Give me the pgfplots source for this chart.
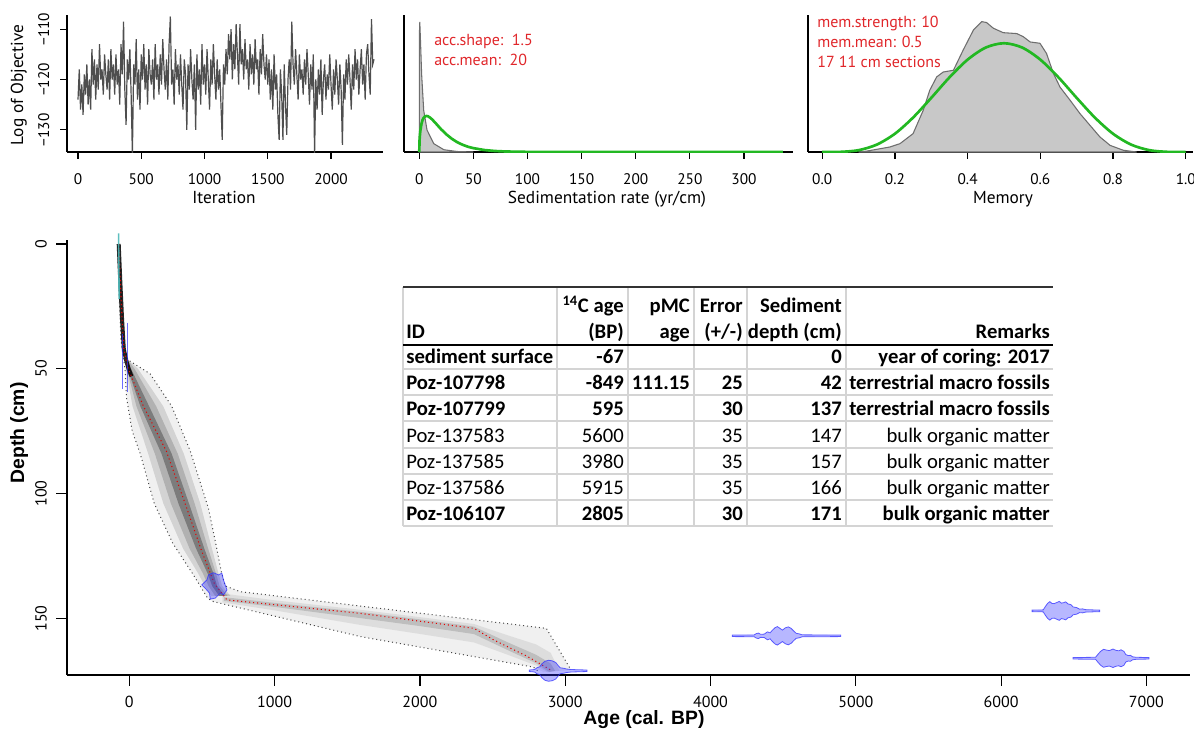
\documentclass[border=0pt]{standalone}
\usepackage{fontspec}
\setmainfont{PT Sans}
\newfontfamily\carlito{Carlito}
\newfontfamily\libsans{Liberation Sans}
\usepackage{pgfplots}
\pgfplotsset{compat=1.18}
\definecolor{trace}{HTML}{4E4E4E}
\definecolor{pgreen}{HTML}{22B822}
\definecolor{annot}{HTML}{E0262A}
\definecolor{dens}{HTML}{C8C8C8}
\definecolor{densline}{HTML}{6E6E6E}
\definecolor{calblue}{HTML}{3030FF}
\definecolor{cyanline}{rgb}{0.30,0.72,0.72}
\definecolor{gridgray}{HTML}{D4D4D4}
\pgfplotsset{
  rbase/.style={
    scale only axis,
    axis lines=left,
    axis line style={-, line width=0.9pt, black},
    tick align=outside,
    tick style={black, line width=0.9pt},
    major tick length=5pt,
    tick label style={font=\fontsize{11.5}{13}\selectfont},
  }
}
\tikzset{
  tb/.style={font=\carlito\bfseries\fontsize{15.5}{18}\selectfont, inner sep=0pt},
  tr/.style={font=\carlito\fontsize{15.5}{18}\selectfont, inner sep=0pt},
}
\begin{document}
\begin{tikzpicture}
\useasboundingbox (0,0) rectangle (895.5pt,-552pt);

% ---------- top left: trace
\begin{axis}[rbase, at={(50.25pt,-114pt)}, anchor=south west,
  width=237pt, height=102.75pt,
  xmin=-87, xmax=2411, ymin=-134.4, ymax=-107.2,
  xtick={0,500,1000,1500,2000}, xticklabels={0,500,1000,1500,2000},
  ytick={-130,-120,-110}, yticklabels={−130,−120,−110},
  xticklabel style={yshift=-8pt},
  yticklabel style={rotate=90, anchor=south, inner ysep=8pt}]
\addplot[trace, line width=0.9pt] table[header=false, row sep=\\, x expr=\coordindex*10, y index=0] {
-124\\ -118\\ -126\\ -121\\ -127\\ -119\\ -123\\ -117\\ -125\\ -120\\
-126\\ -114\\ -121\\ -116\\ -124\\ -117\\ -122\\ -113\\ -120\\ -118\\
-123\\ -115\\ -119\\ -122\\ -116\\ -124\\ -114\\ -120\\ -117\\ -123\\
-115\\ -121\\ -118\\ -125\\ -113\\ -119\\ -108.5\\ -122\\ -129\\ -116\\
-120\\ -114\\ -123\\ -135\\ -117\\ -121\\ -112\\ -124\\ -118\\ -126\\
-115\\ -120\\ -113\\ -122\\ -117\\ -125\\ -114\\ -119\\ -121\\ -116\\
-124\\ -113\\ -120\\ -117\\ -123\\ -115\\ -121\\ -112\\ -118\\ -122\\
-116\\ -124\\ -113\\ -107.5\\ -121\\ -118\\ -125\\ -114\\ -120\\ -117\\
-123\\ -115\\ -121\\ -126\\ -116\\ -119\\ -130\\ -117\\ -122\\ -114\\
-120\\ -124\\ -117\\ -130\\ -115\\ -122\\ -118\\ -125\\ -113\\ -121\\
-117\\ -123\\ -114\\ -120\\ -126\\ -116\\ -121\\ -113\\ -119\\ -124\\
-116\\ -122\\ -118\\ -125\\ -132\\ -117\\ -121\\ -114\\ -119\\ -111\\
-116\\ -110\\ -120\\ -113\\ -118\\ -109\\ -115\\ -121\\ -109\\ -117\\
-114\\ -120\\ -112\\ -118\\ -116\\ -122\\ -113\\ -119\\ -115\\ -121\\
-112\\ -118\\ -116\\ -123\\ -114\\ -119\\ -111\\ -117\\ -120\\ -115\\
-121\\ -116\\ -124\\ -118\\ -126\\ -115\\ -122\\ -119\\ -127\\ -132\\
-118\\ -123\\ -132\\ -117\\ -125\\ -131\\ -120\\ -116\\ -122\\ -108.5\\
-117\\ -121\\ -114\\ -119\\ -124\\ -115\\ -120\\ -118\\ -123\\ -116\\
-121\\ -114\\ -119\\ -125\\ -117\\ -122\\ -115\\ -135\\ -120\\ -126\\
-118\\ -123\\ -116\\ -127\\ -120\\ -117\\ -124\\ -119\\ -122\\ -115\\
-121\\ -126\\ -118\\ -123\\ -116\\ -120\\ -125\\ -117\\ -122\\ -133\\
-119\\ -124\\ -116\\ -121\\ -115\\ -120\\ -126\\ -117\\ -122\\ -114\\
-120\\ -116\\ -123\\ -118\\ -114\\ -121\\ -117\\ -124\\ -115\\ -113\\
-119\\ -123\\ -108\\ -117\\ -116\\
};
\end{axis}

% ---------- top middle: accumulation rate
\begin{axis}[rbase, at={(303pt,-114pt)}, anchor=south west,
  width=291.75pt, height=102.75pt,
  xmin=-14.1, xmax=345.3, ymin=0, ymax=0.138,
  xtick={0,50,100,150,200,250,300}, xticklabels={0,50,100,150,200,250,300},
  ytick=\empty, xticklabel style={yshift=-8pt}]
\addplot[fill=dens, draw=densline, line width=0.8pt] coordinates {
(0,0) (0.15,0.12) (0.5,0.131) (1.2,0.11) (2.2,0.078) (4.1,0.042) (7.2,0.022)
(13.4,0.0084) (22.7,0.0023) (35,0.0005) (50,0)} -- cycle;
\addplot[pgreen, line width=2pt] coordinates {
(0,0) (0.25,0.0114) (0.5,0.0158) (1,0.0215) (2,0.0282) (3,0.0321) (4,0.0343)
(5,0.0356) (6.67,0.0363) (8,0.0360) (10,0.0346) (12,0.0327) (15,0.0292)
(20,0.0231) (25,0.0178) (30,0.0134) (35,0.0099) (40,0.0073) (45,0.0053)
(50,0.0039) (60,0.0020) (70,0.0010) (80,0.0005) (100,0.00013) (150,0) (336,0)};
\end{axis}

% ---------- top right: memory
\begin{axis}[rbase, at={(606pt,-114pt)}, anchor=south west,
  width=288.75pt, height=102.75pt,
  xmin=-0.039, xmax=1.02, ymin=0, ymax=3.1,
  xtick={0,0.2,0.4,0.6,0.8,1}, xticklabels={0.0,0.2,0.4,0.6,0.8,1.0},
  ytick=\empty, xticklabel style={yshift=-8pt}]
\addplot[fill=dens, draw=densline, line width=0.8pt] coordinates {
(0.10,0) (0.122,0.02) (0.186,0.113) (0.214,0.189) (0.250,0.416) (0.278,0.945)
(0.296,1.40) (0.315,1.70) (0.333,1.81) (0.361,1.85) (0.388,2.31) (0.416,2.76)
(0.439,2.95) (0.452,2.93) (0.471,2.80) (0.498,2.70) (0.535,2.68) (0.553,2.61)
(0.572,2.49) (0.599,2.46) (0.617,2.23) (0.636,1.78) (0.654,1.47) (0.682,1.17)
(0.709,0.87) (0.737,0.60) (0.764,0.34) (0.792,0.15) (0.828,0.04) (0.865,0)} -- cycle;
\addplot[pgreen, line width=2pt, smooth] coordinates {
(0,0) (0.05,0.0032) (0.1,0.0413) (0.15,0.1665) (0.2,0.413) (0.25,0.779)
(0.3,1.225) (0.35,1.688) (0.4,2.090) (0.45,2.364) (0.5,2.461) (0.55,2.364)
(0.6,2.090) (0.65,1.688) (0.7,1.225) (0.75,0.779) (0.8,0.413) (0.85,0.1665)
(0.9,0.0413) (0.95,0.0032) (1,0)};
\end{axis}

% ---------- main age-depth plot (y = -depth)
\begin{axis}[rbase, at={(50.25pt,-506.25pt)}, anchor=south west,
  width=842.25pt, height=326.25pt,
  xmin=-428.8, xmax=7300, ymin=-172.7, ymax=1.6,
  major tick length=8pt,
  tick label style={font=\fontsize{12}{14}\selectfont},
  xtick={0,1000,2000,3000,4000,5000,6000,7000},
  xticklabels={0,1000,2000,3000,4000,5000,6000,7000},
  ytick={-150,-100,-50,0}, yticklabels={150,100,50,0},
  xticklabel style={yshift=-4.5pt},
  yticklabel style={rotate=90, anchor=south, inner ysep=7pt},
  clip=false]
% grey cloud: outer envelope
\addplot[draw=none, fill=black, fill opacity=0.06] coordinates {
(-30,-50) (-18,-62) (20,-75) (75,-84) (172,-104) (300,-120) (435,-132) (540,-142)
(580,-143.3) (1591,-157.3) (2780,-169.5) (2850,-171.5) (3040,-170.7) (2870,-154)
(763,-139.3) (660,-137) (632,-131) (595,-120) (545,-106) (420,-83) (292,-65)
(143,-52) (-7,-46.5)} -- cycle;
% upper section inner layers
\addplot[draw=none, fill=black, fill opacity=0.12] coordinates {
(-17,-46.5) (-23.1,-50) (22.1,-65) (129.9,-84) (234.4,-104) (369.7,-122) (474,-132)
(520,-137) (563,-141) (696,-141) (639,-137) (614,-132) (568.5,-122) (488.5,-104)
(374.9,-84) (233.5,-65) (59.5,-50) (-7.9,-46.5)} -- cycle;
\addplot[draw=none, fill=black, fill opacity=0.16] coordinates {
(-14.5,-46.5) (-17.4,-50) (48.9,-65) (175.7,-84) (286.4,-104) (414.5,-122)
(506.5,-132) (545,-137) (590.5,-141) (676,-141) (621.5,-137) (596.5,-132)
(542.3,-122) (449.8,-104) (333.2,-84) (184.8,-65) (35.8,-50) (-8.65,-46.5)} -- cycle;
\addplot[draw=none, fill=black, fill opacity=0.3] coordinates {
(-12,-46.5) (-11.6,-50) (75.6,-65) (221.4,-84) (338.4,-104) (459.2,-122) (539,-132)
(570,-137) (618,-141) (656,-141) (604,-137) (579,-132) (516,-122) (411,-104)
(291.4,-84) (136,-65) (12,-50) (-9.4,-46.5)} -- cycle;
% lower section inner layers
\addplot[draw=none, fill=black, fill opacity=0.08] coordinates {
(640,-140) (1000,-142.75) (1591,-146.55) (2000,-149.5) (2372,-152.25) (2600,-156.7)
(2800,-160.45) (2900,-163.8) (2960,-171) (2880,-171.6) (2800,-168.9) (2600,-164.5)
(2372,-159.65) (2000,-156.25) (1591,-152.65) (1000,-146.8) (640,-143.6)} -- cycle;
\addplot[draw=none, fill=black, fill opacity=0.14] coordinates {
(650,-141.5) (1000,-143.8) (1591,-147.4) (2000,-150.4) (2372,-153.3) (2600,-159.5)
(2800,-164.6) (2900,-168.1) (2930,-171) (2890,-171.5) (2800,-168) (2600,-162.6)
(2372,-156.3) (2000,-153.1) (1591,-149.9) (1000,-145.4) (650,-143)} -- cycle;
% dotted bounds
\addplot[gray!55!black, line width=0.75pt, dash pattern=on 0.75pt off 2.25pt] coordinates {
(-80,-1) (-70,-20) (-58,-38) (-45,-44) (-30,-50) (-18,-62) (20,-75) (75,-84)
(172,-104) (300,-120) (435,-132) (540,-142) (580,-143.3) (1591,-157.3)
(2780,-169.5) (2810,-171)};
\addplot[gray!55!black, line width=0.75pt, dash pattern=on 0.75pt off 2.25pt] coordinates {
(-66,-1) (-55,-20) (-40,-38) (-20,-45) (-7,-46.5) (143,-52) (292,-65) (420,-83)
(545,-106) (595,-120) (632,-131) (660,-137) (763,-139.3) (2870,-154) (3040,-170.7)};
% dark upper band
\addplot[black, line width=3pt, opacity=0.85] coordinates {
(-73,0) (-62,-15) (-50,-30) (-38,-42) (-20,-47) (-5,-50) (15,-53)};
% mean
\addplot[red!90!black, line width=0.8pt, dash pattern=on 0.8pt off 2.2pt] coordinates {
(-73,0) (-62,-15) (-50,-30) (-38,-42) (-20,-47) (-7,-50) (97,-65) (255,-83)
(378,-103) (498,-123) (585,-136) (672,-142.6) (1591,-148) (2372,-154)
(2510,-158.7) (2741,-165.3) (2901,-170.7)};
% calibrated dates
\addplot[cyanline, line width=1.2pt, opacity=0.9] coordinates {(-74,4.3) (-70,-22)};
\addplot[calblue, line width=1.1pt, opacity=0.7] coordinates {(-13,-31.5) (-13,-59.5)};
\addplot[calblue, line width=1.1pt, opacity=0.7] coordinates {(-48,-36) (-48,-58)};
\addplot[fill=calblue, fill opacity=0.35, draw=calblue, draw opacity=0.75, line width=0.6pt] coordinates {
(499,-136.6) (534,-134.6) (545,-132.6) (579,-131.7) (614,-132.6) (637,-131.9)
(648,-134.6) (660,-136.6) (672,-138.6) (648,-140.6) (626,-139.9) (591,-141.9)
(557,-142.3) (552,-139.9) (522,-137.9)} -- cycle;
\addplot[fill=calblue, fill opacity=0.35, draw=calblue, draw opacity=0.75, line width=0.6pt] coordinates {
(4149,-157.3) (4300,-157.35) (4315,-157.9) (4330,-158.1) (4345,-157.6) (4370,-157.7)
(4392,-158.6) (4410,-158.2) (4425,-159.2) (4445,-160.3) (4460,-160.7) (4478,-160)
(4495,-159.3) (4515,-160.2) (4535,-160.6) (4555,-160) (4575,-158.8) (4590,-158)
(4610,-157.8) (4630,-157.4) (4896,-157.3)
(4896,-156.7) (4630,-156.6) (4610,-156.2) (4590,-156) (4575,-155.2) (4555,-154)
(4535,-153.4) (4515,-153.8) (4495,-154.7) (4478,-154) (4460,-153.3) (4445,-153.7)
(4425,-154.8) (4410,-155.8) (4392,-155.4) (4370,-156.3) (4345,-156.4) (4330,-155.9)
(4315,-156.1) (4300,-156.65) (4149,-156.7)} -- cycle;
\addplot[fill=calblue, fill opacity=0.35, draw=calblue, draw opacity=0.75, line width=0.6pt] coordinates {
(6213,-147.3) (6290,-147.4) (6305,-148.8) (6320,-150) (6335,-150.7) (6350,-150)
(6365,-149.9) (6385,-150.4) (6400,-150.8) (6415,-150.1) (6430,-150.3) (6445,-150.6)
(6460,-149.8) (6480,-149.5) (6495,-148.6) (6520,-148.3) (6540,-147.7) (6560,-147.8)
(6580,-147.5) (6678,-147.3)
(6678,-146.7) (6580,-146.5) (6560,-146.2) (6540,-146.3) (6520,-145.7) (6495,-145.4)
(6480,-144.5) (6460,-144.2) (6445,-143.4) (6430,-143.7) (6415,-143.9) (6400,-143.2)
(6385,-143.6) (6365,-144.1) (6350,-144) (6335,-143.3) (6320,-144) (6305,-145.2)
(6290,-146.6) (6213,-146.7)} -- cycle;
\addplot[fill=calblue, fill opacity=0.35, draw=calblue, draw opacity=0.75, line width=0.6pt] coordinates {
(6495,-166.3) (6650,-166.4) (6665,-167.5) (6685,-168.8) (6705,-169.6) (6725,-169.3)
(6745,-169.1) (6770,-169.7) (6790,-169.2) (6810,-169) (6825,-169.4) (6845,-168.8)
(6858,-167.5) (6875,-167.1) (6890,-167.2) (6905,-166.6) (6930,-166.4) (7018,-166.3)
(7018,-165.7) (6930,-165.6) (6905,-165.4) (6890,-164.8) (6875,-164.9) (6858,-164.5)
(6845,-163.2) (6825,-162.6) (6810,-163) (6790,-162.8) (6770,-162.3) (6745,-162.9)
(6725,-162.7) (6705,-162.4) (6685,-163.2) (6665,-164.5) (6650,-165.6) (6495,-165.7)} -- cycle;
\addplot[fill=calblue, fill opacity=0.35, draw=calblue, draw opacity=0.75, line width=0.6pt] coordinates {
(2752,-171.3) (2790,-171.5) (2805,-172.2) (2825,-172.6) (2840,-173.8) (2860,-174.8)
(2885,-175.2) (2910,-175) (2935,-174.3) (2950,-173.2) (2965,-172.2) (2990,-172)
(3010,-171.7) (3040,-171.5) (3150,-171.3)
(3150,-170.7) (3040,-170.5) (3010,-170.3) (2990,-170) (2965,-169.8) (2950,-168.8)
(2935,-167.7) (2910,-167) (2885,-166.8) (2860,-167.2) (2840,-168.2) (2825,-169.4)
(2805,-169.8) (2790,-170.5) (2752,-170.7)} -- cycle;
\end{axis}

% ---------- labels, annotations and table (pixel coordinates)
\begin{scope}[x=0.75pt, y=-0.75pt]
\node[rotate=90, anchor=base, font=\fontsize{13}{15}\selectfont] at (23,85) {Log of Objective};
\node[anchor=base, font=\fontsize{13}{15}\selectfont] at (224,203) {Iteration};
\node[anchor=base, font=\fontsize{13}{15}\selectfont] at (607,203) {Sedimentation rate (yr/cm)};
\node[anchor=base, font=\fontsize{13}{15}\selectfont] at (1003,203) {Memory};
\node[anchor=base west, text=annot, font=\fontsize{12}{14}\selectfont, inner sep=0pt] at (434,45) {acc.shape:\ \ 1.5};
\node[anchor=base west, text=annot, font=\fontsize{12}{14}\selectfont, inner sep=0pt] at (434,65) {acc.mean:\ \ 20};
\node[anchor=base west, text=annot, font=\fontsize{12}{14}\selectfont, inner sep=0pt] at (817,27) {mem.strength: 10};
\node[anchor=base west, text=annot, font=\fontsize{12}{14}\selectfont, inner sep=0pt] at (817,47) {mem.mean: 0.5};
\node[anchor=base west, text=annot, font=\fontsize{12}{14}\selectfont, inner sep=0pt] at (817,67) {17 11 cm sections};
\node[rotate=90, anchor=base, font=\libsans\bfseries\fontsize{14.5}{16}\selectfont] at (24,433) {Depth (cm)};
\node[font=\libsans\bfseries\fontsize{14.5}{16}\selectfont] at (644,720) {Age (cal. BP)};
% table
\fill[white] (403,287) rectangle (1053,527);
\foreach \yy in {369,395,421,448,474,500,526} \draw[gridgray, line width=0.8pt] (403,\yy) -- (1053,\yy);
\foreach \xx in {403,557,628,694,747,846} \draw[gridgray, line width=0.8pt] (\xx,287) -- (\xx,526);
\draw[black!80, line width=0.8pt] (403,287) -- (1053,287);
\draw[black, line width=1.5pt] (403,344.5) -- (1053,344.5);
\node[tb, anchor=base east] at (624,312) {\textsuperscript{14}C age};
\node[tb, anchor=base east] at (624,338) {(BP)};
\node[tb, anchor=base west] at (406,338) {ID};
\node[tb, anchor=base east] at (690,312) {pMC};
\node[tb, anchor=base east] at (690,338) {age};
\node[tb, anchor=base east] at (743,312) {Error};
\node[tb, anchor=base east] at (743,338) {(+/-)};
\node[tb, anchor=base east] at (842,312) {Sediment};
\node[tb, anchor=base east] at (842,338) {depth (cm)};
\node[tb, anchor=base east] at (1050,338) {Remarks};
% row 1
\node[tb, anchor=base west] at (406,363) {sediment surface};
\node[tb, anchor=base east] at (624,363) {-67};
\node[tb, anchor=base east] at (842,363) {0};
\node[tb, anchor=base east] at (1050,363) {year of coring: 2017};
% row 2
\node[tb, anchor=base west] at (406,389) {Poz-107798};
\node[tb, anchor=base east] at (624,389) {-849};
\node[tb, anchor=base east] at (690,389) {111.15};
\node[tb, anchor=base east] at (743,389) {25};
\node[tb, anchor=base east] at (842,389) {42};
\node[tb, anchor=base east] at (1050,389) {terrestrial macro fossils};
% row 3
\node[tb, anchor=base west] at (406,415) {Poz-107799};
\node[tb, anchor=base east] at (624,415) {595};
\node[tb, anchor=base east] at (743,415) {30};
\node[tb, anchor=base east] at (842,415) {137};
\node[tb, anchor=base east] at (1050,415) {terrestrial macro fossils};
% row 4
\node[tr, anchor=base west] at (406,442) {Poz-137583};
\node[tr, anchor=base east] at (624,442) {5600};
\node[tr, anchor=base east] at (743,442) {35};
\node[tr, anchor=base east] at (842,442) {147};
\node[tr, anchor=base east] at (1050,442) {bulk organic matter};
% row 5
\node[tr, anchor=base west] at (406,468) {Poz-137585};
\node[tr, anchor=base east] at (624,468) {3980};
\node[tr, anchor=base east] at (743,468) {35};
\node[tr, anchor=base east] at (842,468) {157};
\node[tr, anchor=base east] at (1050,468) {bulk organic matter};
% row 6
\node[tr, anchor=base west] at (406,494) {Poz-137586};
\node[tr, anchor=base east] at (624,494) {5915};
\node[tr, anchor=base east] at (743,494) {35};
\node[tr, anchor=base east] at (842,494) {166};
\node[tr, anchor=base east] at (1050,494) {bulk organic matter};
% row 7
\node[tb, anchor=base west] at (406,520) {Poz-106107};
\node[tb, anchor=base east] at (624,520) {2805};
\node[tb, anchor=base east] at (743,520) {30};
\node[tb, anchor=base east] at (842,520) {171};
\node[tb, anchor=base east] at (1050,520) {bulk organic matter};
\end{scope}
\end{tikzpicture}
\end{document}
